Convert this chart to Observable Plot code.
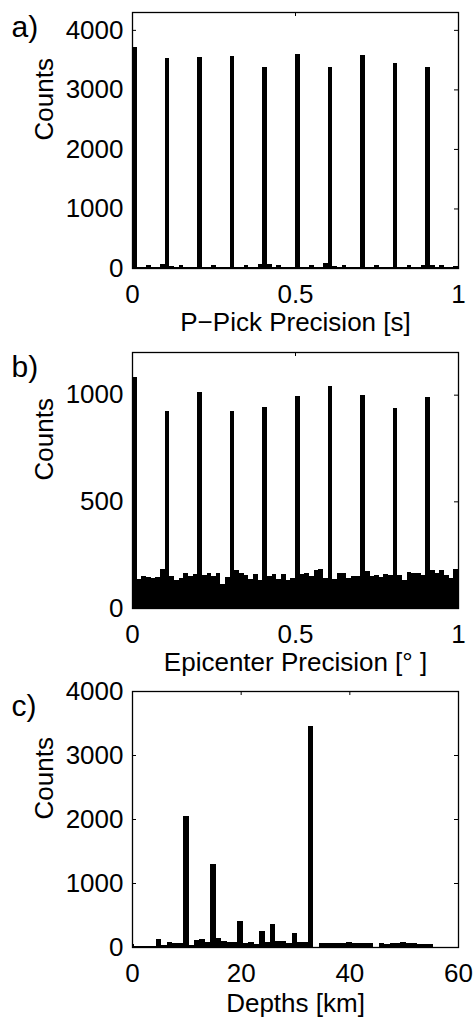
<!DOCTYPE html>
<html><head><meta charset="utf-8">
<script src="https://cdn.jsdelivr.net/npm/d3@7"></script>
<script src="https://cdn.jsdelivr.net/npm/@observablehq/plot@0.6"></script>
<style>
body{margin:0;background:#fff}
svg{display:block}
</style>
</head><body><div id="chart"></div>
<script>
// ---------- data ----------
// a) P-pick precision histogram, 70 bins over [0,1]
const pickCounts = [
  3720, 15, 12, 50, 15, 12, 70,
  3530, 30, 15, 45, 12, 15, 15,
  3540, 15, 12, 45, 15, 12, 20,
  3560, 20, 15, 45, 12, 15, 60,
  3380, 70, 15, 45, 15, 18, 15,
  3600, 20, 15, 45, 12, 15, 90,
  3370, 40, 15, 45, 15, 12, 18,
  3570, 20, 12, 45, 15, 15, 20,
  3440, 15, 12, 45, 15, 12, 50,
  3370, 50, 15, 45, 12, 15, 30
];
// b) Epicenter precision histogram, 70 bins over [0,1]
const epiCounts = [
  1085, 135, 150, 145, 142, 145, 185,
  922, 148, 130, 140, 166, 148, 160,
  1012, 154, 166, 148, 166, 113, 145,
  925, 179, 165, 154, 135, 158, 132,
  944, 148, 158, 135, 158, 132, 140,
  994, 160, 166, 148, 176, 182, 142,
  1042, 135, 163, 166, 140, 151, 148,
  997, 173, 148, 154, 145, 160, 154,
  938, 154, 130, 171, 163, 166, 155,
  991, 176, 166, 176, 155, 140, 182
];
// c) Depth histogram, 1 km bins
const depthKm = [0,1,2,3,4,5,6,7,8,9,10,11,12,13,14,15,16,17,18,19,20,21,22,23,24,25,26,27,28,29,30,31,32,33,34,35,36,37,38,39,40,41,42,43,44,45,46,47,48,49,50,51,52,53,54,55];
const depthCounts = [52,15,15,15,15,120,37,73,60,55,2050,25,104,120,78,1300,145,94,78,80,407,68,73,52,250,78,355,94,89,68,224,83,78,3450,0,63,63,63,57,57,78,63,63,63,63,0,63,52,68,63,83,63,57,42,52,52];

const precisionTicks = [0, 0.5, 1];
const pickYTicks = [0, 1000, 2000, 3000, 4000];
const epiYTicks = [0, 500, 1000];
const depthXTicks = [0, 20, 40, 60];
const depthYTicks = [0, 1000, 2000, 3000, 4000];

// ---------- build ----------
const W = 473, ML = 132, MR = 15;
const FW = W - ML - MR;
const font = "'Liberation Sans', Arial, Helvetica, sans-serif";

function panel({rows, xDomain, yDomain, xTicks, yTicks, tag, xLabel, height, marginTop, marginBottom, labelDy}) {
  const FH = height - marginTop - marginBottom;
  return Plot.plot({
    width: W, height, marginLeft: ML, marginRight: MR, marginTop, marginBottom,
    style: {fontFamily: font, fontSize: "26px", color: "black", background: "white", overflow: "visible"},
    x: {domain: xDomain},
    y: {domain: yDomain},
    marks: [
      Plot.rectY(rows, {x1: "x1", x2: "x2", y1: 0, y2: "count", fill: "black", clip: true, shapeRendering: "crispEdges"}),
      Plot.frame({stroke: "black", strokeWidth: 1.3}),
      Plot.tickX(xTicks, {x: d => d, insetTop: FH - 4, stroke: "black", strokeWidth: 1}),
      Plot.tickX(xTicks, {x: d => d, insetBottom: FH - 4, stroke: "black", strokeWidth: 1}),
      Plot.tickY(yTicks, {y: d => d, insetRight: FW - 4, stroke: "black", strokeWidth: 1}),
      Plot.tickY(yTicks, {y: d => d, insetLeft: FW - 4, stroke: "black", strokeWidth: 1}),
      Plot.axisX(xTicks, {tickSize: 0, tickPadding: 16, tickFormat: d => String(d), fontSize: 26, label: null}),
      Plot.axisY(yTicks, {tickSize: 0, tickPadding: 9, tickFormat: d => String(d), fontSize: 26, label: null}),
      Plot.text(["Counts"], {text: d => d, frameAnchor: "left", dx: -88, rotate: -90, fontSize: 26, lineAnchor: "middle"}),
      Plot.text([xLabel], {text: d => d, frameAnchor: "bottom", dy: labelDy, lineAnchor: "middle", fontSize: 26}),
      Plot.text([tag], {text: d => d, frameAnchor: "top-left", dx: -121, dy: 3, textAnchor: "start", lineAnchor: "top", fontSize: 30})
    ]
  });
}

const w70 = 1 / 70;
const pickRows = pickCounts.map((c, i) => ({x1: i * w70, x2: (i + 1) * w70, count: c}));
const epiRows = epiCounts.map((c, i) => ({x1: i * w70, x2: (i + 1) * w70, count: c}));
const depthRows = depthKm.map((d, i) => ({x1: d - 0.6, x2: d + 0.4, count: depthCounts[i]}));

const root = document.getElementById("chart");
root.append(panel({rows: pickRows, xDomain: [0, 1], yDomain: [0, 4300], xTicks: precisionTicks, yTicks: pickYTicks,
  tag: "a)", xLabel: "P\u2212Pick Precision [s]", height: 340, marginTop: 12, marginBottom: 72, labelDy: 54}));
root.append(panel({rows: epiRows, xDomain: [0, 1], yDomain: [0, 1200], xTicks: precisionTicks, yTicks: epiYTicks,
  tag: "b)", xLabel: "Epicenter Precision [\u00b0 ]", height: 340, marginTop: 12, marginBottom: 72, labelDy: 54}));
root.append(panel({rows: depthRows, xDomain: [0, 60], yDomain: [0, 4000], xTicks: depthXTicks, yTicks: depthYTicks,
  tag: "c)", xLabel: "Depths [km]", height: 339, marginTop: 11, marginBottom: 72, labelDy: 56}));
</script>
</body></html>
